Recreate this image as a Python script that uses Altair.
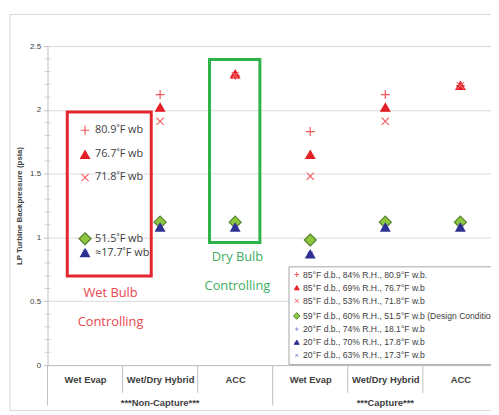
import json
import altair as alt
import pandas as pd

# ---------------- data ----------------
categories = ["Wet Evap", "Wet/Dry Hybrid", "ACC", "Wet Evap", "Wet/Dry Hybrid", "ACC"]
groups = ["***Non-Capture***", "***Capture***"]

series_labels = [
    "85°F d.b., 84% R.H., 80.9°F w.b.",
    "85°F d.b., 69% R.H., 76.7°F w.b",
    "85°F d.b., 53% R.H., 71.8°F w.b",
    "59°F d.b., 60% R.H., 51.5°F w.b (Design Condition)",
    "20°F d.b., 74% R.H., 18.1°F w.b",
    "20°F d.b., 70% R.H., 17.8°F w.b",
    "20°F d.b., 63% R.H., 17.3°F w.b",
]
s_809 = [1.84, 2.12, 2.27, 1.83, 2.12, 2.19]
s_767 = [1.65, 2.02, 2.28, 1.65, 2.02, 2.19]
s_718 = [1.47, 1.91, 2.27, 1.48, 1.91, 2.19]
s_515 = [0.99, 1.12, 1.12, 0.98, 1.12, 1.12]
s_181 = [0.88, 1.08, 1.08, 0.87, 1.08, 1.08]
s_178 = [0.88, 1.08, 1.08, 0.87, 1.08, 1.08]
s_173 = [0.88, 1.08, 1.08, 0.87, 1.08, 1.08]
series_values = [s_809, s_767, s_718, s_515, s_181, s_178, s_173]

wb_labels = ["80.9˚F wb", "76.7˚F wb", "71.8˚F wb", "51.5˚F wb", "", "≈17.7˚F wb", ""]

y_ticks = [0, 0.5, 1, 1.5, 2, 2.5]
minor_ticks = [0.1, 0.2, 0.3, 0.4, 0.6, 0.7, 0.8, 0.9, 1.1, 1.2, 1.3, 1.4,
               1.6, 1.7, 1.8, 1.9, 2.1, 2.2, 2.3, 2.4]

# annotation boxes (data coordinates): wet-bulb box, dry-bulb box
wet_box = {"x": 0.263, "x2": 1.382, "y": 0.698, "y2": 1.984}
dry_box = {"x": 2.158, "x2": 2.829, "y": 0.961, "y2": 2.395}

wet_notes = {"t": ["Wet Bulb", "Controlling"], "x": [0.84, 0.84], "y": [0.565, 0.34]}
dry_notes = {"t": ["Dry Bulb", "Controlling"], "x": [2.53, 2.53], "y": [0.845, 0.62]}

# ---------------- styling ----------------
PLUS = "M-1,0L1,0M0,-1L0,1"
CROSS = "M-0.8,-0.8L0.8,0.8M0.8,-0.8L-0.8,0.8"
PLUS_S = "M-0.7,0L0.7,0M0,-0.7L0,0.7"
CROSS_S = "M-0.55,-0.55L0.55,0.55M0.55,-0.55L-0.55,0.55"
DIAMOND = "M0,-1.35L1.35,0L0,1.35L-1.35,0Z"
shapes = [PLUS, "triangle-up", CROSS, DIAMOND, PLUS_S, "triangle-up", CROSS_S]
strokes = ["#f0585c", "#e31e24", "#f06468", "#55822d", "#8c8cd8", "#2e3192", "#7d7dd0"]
fills = ["transparent", "#e31e24", "transparent", "#8dc63f", "transparent", "#2e3192", "transparent"]
draw_rank = [0, 1, 2, 3, 4, 6, 5]

W, H = 449, 323
PX_PER_CAT = 76.0
XMAX = W / PX_PER_CAT
FONT = "Liberation Sans"
TXT = "#404040"
AX = "#bfbfbf"

rows = []
for si, (lab, vals) in enumerate(zip(series_labels, series_values)):
    for ci, v in enumerate(vals):
        rows.append({"series": lab, "draw": draw_rank[si], "cat": ci, "xpos": ci + 0.5,
                     "value": v, "wb": wb_labels[si]})
df = pd.DataFrame(rows)

leg = alt.Legend(
    title=None, orient="none", legendX=244, legendY=223, padding=4,
    strokeColor="#a6a6a6", fillColor="white", labelFont=FONT, labelFontSize=8.7,
    labelColor=TXT, symbolSize=25, symbolStrokeWidth=1, rowPadding=3.3,
    labelLimit=400, labelOffset=2,
)

xaxis = alt.Axis(
    values=[i + 0.5 for i in range(len(categories))],
    labelExpr=f"{json.dumps(categories)}[floor(datum.value)]",
    ticks=False, grid=False, domainColor=AX, labelFont=FONT, labelFontWeight="bold",
    labelFontSize=9.5, labelColor=TXT, labelPadding=10, title=None,
    labelFlush=False, labelOverlap=False,
)
yaxis = alt.Axis(
    values=y_ticks, format="~g", grid=True, gridColor="#d9d9d9", domainColor=AX,
    tickColor=AX, tickSize=4, labelFont=FONT, labelFontSize=8, labelColor=TXT,
    labelPadding=3, title="LP Turbine Backpressure (psia)", titleFont=FONT,
    titleFontSize=8, titleFontWeight="bold", titleColor=TXT, titlePadding=6,
)

xs = alt.Scale(domain=[0, XMAX], nice=False, zero=False)
ys = alt.Scale(domain=[0, 2.5], nice=False)

frame = alt.Chart(pd.DataFrame({"k": [0]})).mark_rect(
    fill="white", fillOpacity=0, stroke="#d9d9d9", strokeWidth=1
).encode(x=alt.value(-38), x2=alt.value(470), y=alt.value(-32), y2=alt.value(369))

points = alt.Chart(df).mark_point(size=81, opacity=1, strokeWidth=1.2).encode(
    x=alt.X("xpos:Q", scale=xs, axis=xaxis),
    y=alt.Y("value:Q", scale=ys, axis=yaxis),
    shape=alt.Shape("series:N", scale=alt.Scale(domain=series_labels, range=shapes), legend=leg),
    fill=alt.Fill("series:N", scale=alt.Scale(domain=series_labels, range=fills), legend=leg),
    stroke=alt.Stroke("series:N", scale=alt.Scale(domain=series_labels, range=strokes), legend=leg),
    order=alt.Order("draw:Q"),
)


def box_layer(b, color):
    return alt.Chart(pd.DataFrame([b])).mark_rect(
        fill="white", fillOpacity=0, strokeWidth=3, stroke=color
    ).encode(x=alt.X("x:Q", scale=xs), x2="x2:Q", y=alt.Y("y:Q", scale=ys), y2="y2:Q")


def note_layer(n, color):
    return alt.Chart(pd.DataFrame(n)).mark_text(
        font="Open Sans", fontSize=13, align="center", baseline="middle", color=color
    ).encode(x=alt.X("x:Q", scale=xs), y=alt.Y("y:Q", scale=ys), text="t:N")


wet_rect = box_layer(wet_box, "#e3262e")
dry_rect = box_layer(dry_box, "#2db34a")
wet_txt = note_layer(wet_notes, "#e8474f")
dry_txt = note_layer(dry_notes, "#43ad62")

wb = alt.Chart(df).transform_filter("datum.cat == 0 && datum.wb != ''").mark_text(
    font="Open Sans", fontSize=11, align="left", baseline="middle", dx=10, color=TXT
).encode(x=alt.X("xpos:Q", scale=xs), y=alt.Y("value:Q", scale=ys), text="wb:N")

bounds_df = pd.DataFrame({"b": list(range(len(categories)))})
sep_short = alt.Chart(bounds_df).transform_filter("datum.b % 3 != 0").mark_rule(color=AX).encode(
    x=alt.X("b:Q", scale=xs), y=alt.value(H), y2=alt.value(H + 28))
sep_long = alt.Chart(bounds_df).transform_filter("datum.b % 3 == 0").mark_rule(color=AX).encode(
    x=alt.X("b:Q", scale=xs), y=alt.value(H), y2=alt.value(H + 41))

grp_df = pd.DataFrame({"g": groups, "gx": [3 * i + 1.5 for i in range(len(groups))]})
grp = alt.Chart(grp_df).mark_text(font=FONT, fontSize=9.5, fontWeight="bold", color=TXT,
                                  baseline="middle").encode(
    x=alt.X("gx:Q", scale=xs), y=alt.value(H + 38), text="g:N")

minor = alt.Chart(pd.DataFrame({"v": minor_ticks})).mark_tick(
    orient="horizontal", size=6, thickness=1, color=AX
).encode(y=alt.Y("v:Q", scale=ys), x=alt.value(0))

chart = alt.layer(frame, wet_rect, dry_rect, points, wet_txt, dry_txt, wb,
                  sep_short, sep_long, grp, minor).properties(
    width=W, height=H,
    padding={"left": 40, "top": 36, "right": 0, "bottom": 48},
    autosize=alt.AutoSizeParams(type="none"),
    background="white",
).configure_view(strokeWidth=0)

chart.save("out.html", embed_options={"renderer": "svg", "actions": False})
